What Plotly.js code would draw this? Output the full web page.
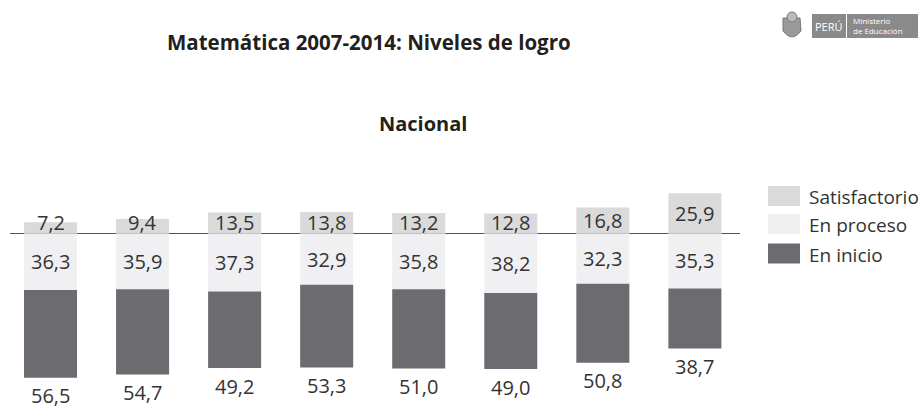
<!DOCTYPE html>
<html>
<head>
<meta charset="utf-8">
<script src="https://cdn.plot.ly/plotly-3.0.1.min.js"></script>
<style>html,body{margin:0;padding:0;background:#fff;}#chart{width:924px;height:408px;}</style>
</head>
<body>
<div id="chart"></div>
<script>
// ---- data ----
const years = ['2007','2008','2009','2010','2011','2012','2013','2014'];
const satisfactorio = [7.2, 9.4, 13.5, 13.8, 13.2, 12.8, 16.8, 25.9];
const enProceso = [36.3, 35.9, 37.3, 32.9, 35.8, 38.2, 32.3, 35.3];
const enInicio = [56.5, 54.7, 49.2, 53.3, 51.0, 49.0, 50.8, 38.7];
const seriesNames = ['Satisfactorio', 'En proceso', 'En inicio'];

// ---- style ----
const FONT = 'Open Sans, Noto Sans, sans-serif';
const COLORS = ['#dadadb', '#f0f0f2', '#6c6c70'];
const TXT = '#333333';
const W = 924, H = 408;
const M = {l: 10, r: 184, t: 170, b: 0};
const plotW = W - M.l - M.r, plotH = H - M.t - M.b;
const px = x => (x - M.l) / plotW;          // pixel -> paper x
const py = y => (H - M.b - y) / plotH;      // pixel -> paper y

const fmt = v => v.toFixed(1).replace('.', ',');

const common = {type: 'bar', x: years, width: 0.576, hoverinfo: 'skip', showlegend: false, textposition: 'none'};
const traces = [
  Object.assign({}, common, {name: seriesNames[0], y: satisfactorio, marker: {color: COLORS[0]}}),
  Object.assign({}, common, {name: seriesNames[1], y: enProceso.map(v => -v), marker: {color: COLORS[1]}}),
  Object.assign({}, common, {name: seriesNames[2], y: enInicio.map(v => -v), marker: {color: COLORS[2]}})
];

const annotations = [];
const lblFont = {family: FONT, size: 20, color: TXT};
years.forEach((yr, i) => {
  annotations.push({x: i, y: Math.max(satisfactorio[i] / 2, 7), xref: 'x', yref: 'y', text: fmt(satisfactorio[i]),
    showarrow: false, font: lblFont, xanchor: 'center', yanchor: 'middle'});
  annotations.push({x: i, y: -enProceso[i] / 2, xref: 'x', yref: 'y', text: fmt(enProceso[i]),
    showarrow: false, font: lblFont, xanchor: 'center', yanchor: 'middle'});
  annotations.push({x: i, y: -(enProceso[i] + enInicio[i]), xref: 'x', yref: 'y', text: fmt(enInicio[i]),
    showarrow: false, font: lblFont, xanchor: 'center', yanchor: 'middle', yshift: -18});
});

// title + subtitle
annotations.push({x: px(369), y: py(42), xref: 'paper', yref: 'paper', text: '<b>Matemática 2007-2014: Niveles de logro</b>',
  showarrow: false, font: {family: FONT, size: 20.5, color: '#231f20'}, xanchor: 'center', yanchor: 'middle'});
annotations.push({x: px(423), y: py(123), xref: 'paper', yref: 'paper', text: '<b>Nacional</b>',
  showarrow: false, font: {family: FONT, size: 20, color: '#231f20'}, xanchor: 'center', yanchor: 'middle'});

// custom legend
const shapes = [];
const legRows = [196, 224, 253.5];
seriesNames.forEach((n, i) => {
  shapes.push({type: 'rect', xref: 'paper', yref: 'paper', x0: px(768), x1: px(800), y0: py(legRows[i] - 10), y1: py(legRows[i] + 10),
    fillcolor: COLORS[i], line: {width: 0}});
  annotations.push({x: px(807), y: py(legRows[i] + 1), xref: 'paper', yref: 'paper', text: n, showarrow: false,
    font: {family: FONT, size: 19, color: TXT}, xanchor: 'left', yanchor: 'middle'});
});

// logo (Ministerio de Educación) drawn with shapes
shapes.push({type: 'path', xref: 'paper', yref: 'paper',
  path: `M ${px(783)} ${py(18)} L ${px(800)} ${py(18)} L ${px(801)} ${py(31)} Q ${px(792)} ${py(43)} ${px(783)} ${py(31)} Z`,
  fillcolor: '#9a9a9a', line: {color: '#777', width: 1}});
shapes.push({type: 'circle', xref: 'paper', yref: 'paper', x0: px(787), x1: px(797), y0: py(22), y1: py(12),
  fillcolor: '#bbbbbb', line: {color: '#777', width: 1}});
shapes.push({type: 'rect', xref: 'paper', yref: 'paper', x0: px(812), x1: px(846), y0: py(38), y1: py(14),
  fillcolor: '#8a8a8a', line: {width: 0}});
shapes.push({type: 'rect', xref: 'paper', yref: 'paper', x0: px(847), x1: px(918), y0: py(38), y1: py(14),
  fillcolor: '#8a8a8a', line: {width: 0}});
annotations.push({x: px(829), y: py(26.5), xref: 'paper', yref: 'paper', text: 'PERÚ', showarrow: false,
  font: {family: FONT, size: 11, color: '#ffffff'}, xanchor: 'center', yanchor: 'middle'});
annotations.push({x: px(851), y: py(26), xref: 'paper', yref: 'paper', text: 'Ministerio<br>de Educación', showarrow: false,
  font: {family: FONT, size: 8, color: '#ffffff'}, xanchor: 'left', yanchor: 'middle', align: 'left'});

const layout = {
  width: W, height: H,
  margin: M,
  paper_bgcolor: '#ffffff', plot_bgcolor: '#ffffff',
  barmode: 'relative',
  showlegend: false,
  xaxis: {type: 'category', range: [-0.44, 7.49], showticklabels: false, showgrid: false, zeroline: false, ticks: '', fixedrange: true},
  yaxis: {range: [-112.2, 40.84], showticklabels: false, showgrid: false, zeroline: true, zerolinecolor: '#555555', zerolinewidth: 1.5, ticks: '', fixedrange: true},
  annotations: annotations,
  shapes: shapes
};

Plotly.newPlot('chart', traces, layout, {displayModeBar: false, staticPlot: true});
</script>
</body>
</html>
